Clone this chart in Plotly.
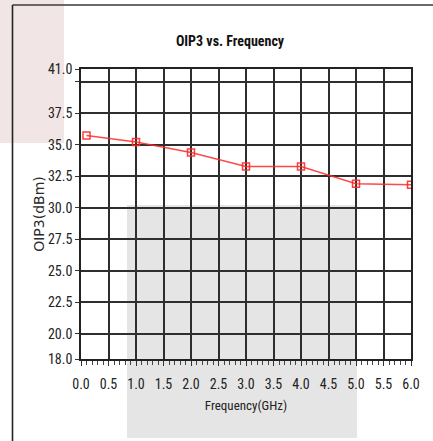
import plotly.graph_objects as go

freq_ghz = [0.1, 1.0, 2.0, 3.0, 4.0, 5.0, 6.0]
oip3_dbm = [35.73, 35.21, 34.38, 33.27, 33.27, 31.9, 31.82]

y_tickvals = [18.0, 20.0, 22.5, 25.0, 27.5, 30.0, 32.5, 35.0, 37.5, 40.0, 41.0]
y_ticktext = ["18.0", "20.0", "22.5", "25.0", "27.5", "30.0", "32.5", "35.0", "37.5", "", "41.0"]

NARROW = "Roboto Condensed, Liberation Sans, sans-serif"

fig = go.Figure()
fig.add_trace(go.Scatter(
    x=freq_ghz, y=oip3_dbm, mode="lines+markers",
    line=dict(color="rgba(255,40,40,0.85)", width=1.6),
    marker=dict(symbol="square-open", size=7, color="rgba(255,40,40,0.9)", line=dict(width=1.5)),
    showlegend=False, hoverinfo="x+y",
))

L, R, T, B = 81, 22, 69, 82
W, H = 433, 441
pw, ph = W - L - R, H - T - B

def px(x):
    return (x - L) / pw

def py(y):
    return (H - B - y) / ph

shapes = [
    dict(type="rect", xref="paper", yref="paper", x0=px(-2), x1=px(64), y0=py(143), y1=py(-2),
         fillcolor="#f2e5e5", line=dict(width=0), layer="below"),
    dict(type="rect", xref="paper", yref="paper", x0=px(127), x1=px(357), y0=py(438), y1=py(205),
         fillcolor="#e5e5e5", line=dict(width=0), layer="below"),
    dict(type="line", xref="paper", yref="paper", x0=px(12.5), x1=px(434), y0=py(5), y1=py(5),
         line=dict(color="#3a3a3a", width=1.6), layer="above"),
    dict(type="line", xref="paper", yref="paper", x0=px(12.5), x1=px(12.5), y0=py(5), y1=py(442),
         line=dict(color="#222222", width=1.6), layer="above"),
]

fig.update_layout(
    width=W, height=H,
    margin=dict(l=L, r=R, t=T, b=B),
    paper_bgcolor="white",
    plot_bgcolor="rgba(0,0,0,0)",
    shapes=shapes,
    title=dict(text="<b>OIP3 vs. Frequency</b>", xref="container", yref="container",
               x=230 / W, y=1 - 41 / H, xanchor="center", yanchor="middle",
               font=dict(family=NARROW, size=14, color="#111111")),
    xaxis=dict(
        range=[0, 6], tickmode="linear", tick0=0, dtick=0.5, tickformat=".1f",
        showgrid=True, gridcolor="#2e2e2e", gridwidth=1.7,
        zeroline=False, showline=True, linecolor="#222222", linewidth=1.6, mirror=True,
        ticks="outside", ticklen=5, tickwidth=1.3, tickcolor="#333333",
        minor=dict(tickmode="linear", tick0=0, dtick=0.1, ticks="outside", ticklen=4, tickwidth=1.2,
                   tickcolor="#444444", showgrid=False),
        tickfont=dict(family=NARROW, size=14, color="#222222"),
        ticklabelstandoff=6,
        title=dict(text="Frequency(GHz)", font=dict(family=NARROW, size=13, color="#222222"), standoff=10),
    ),
    yaxis=dict(
        range=[18, 41], tickmode="array", tickvals=y_tickvals, ticktext=y_ticktext,
        showgrid=True, gridcolor="#2e2e2e", gridwidth=1.7,
        zeroline=False, showline=True, linecolor="#222222", linewidth=1.6, mirror=True,
        ticks="outside", ticklen=4, tickwidth=1.3, tickcolor="#333333",
        tickfont=dict(family=NARROW, size=14, color="#222222"),
        title=dict(text="OIP3(dBm)", font=dict(family="DejaVu Sans, sans-serif", size=14, color="#2a2a2a"), standoff=0),
    ),
)

fig.write_html("out.html", config={"displayModeBar": False},
               post_script="document.body.style.margin='0';")
